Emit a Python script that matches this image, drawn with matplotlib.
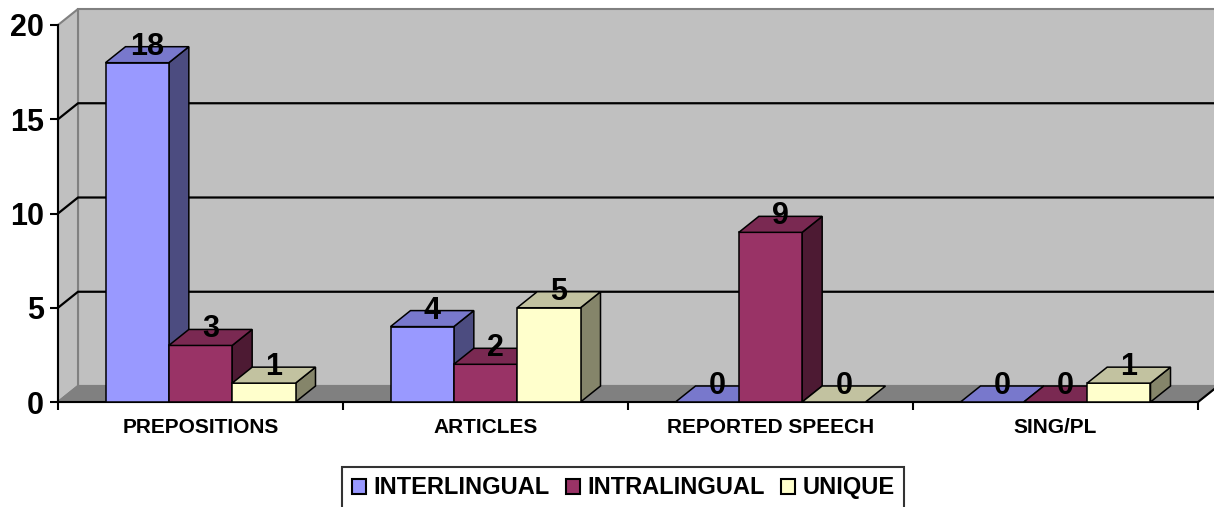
import matplotlib

matplotlib.use("Agg")
import matplotlib.pyplot as plt
from matplotlib.patches import Patch, Polygon, Rectangle

CATEGORIES = ["PREPOSITIONS", "ARTICLES", "REPORTED SPEECH", "SING/PL"]
SERIES = ["INTERLINGUAL", "INTRALINGUAL", "UNIQUE"]
INTERLINGUAL = [18, 4, 0, 0]
INTRALINGUAL = [3, 2, 9, 0]
UNIQUE = [1, 5, 0, 1]
Y_TICKS = [0, 5, 10, 15, 20]

# front / top / side shades, Excel 2003 style
SHADES = {
    "INTERLINGUAL": ("#9999FF", "#7878CC", "#4C4C80"),
    "INTRALINGUAL": ("#993366", "#7A2952", "#4D1A33"),
    "UNIQUE": ("#FFFFCC", "#C2C2A0", "#85856A"),
}
WALL = "#C0C0C0"
FLOOR = "#808080"
EDGE_GREY = "#808080"

plt.rcParams["font.family"] = ["Liberation Sans", "DejaVu Sans"]
plt.rcParams["font.weight"] = "bold"

W, H = 1214, 507
fig = plt.figure(figsize=(W / 100, H / 100), dpi=100)
ax = fig.add_axes([58 / W, 105 / H, 1140 / W, 377 / H])
ax.set_xlim(0, len(CATEGORIES))
ax.set_ylim(0, 20)

# depth of the 3-D box, converted from pixels into data units
dx = 20 / (1140 / len(CATEGORIES))
dy = 16 / (377 / 20)
ncat = len(CATEGORIES)
ymax = Y_TICKS[-1]


def poly(pts, fc, ec, lw, z):
    ax.add_patch(Polygon(pts, closed=True, facecolor=fc, edgecolor=ec, linewidth=lw,
                         zorder=z, clip_on=False, joinstyle="miter"))


# walls and floor
poly([(dx, dy), (ncat + dx, dy), (ncat + dx, ymax + dy), (dx, ymax + dy)], WALL, EDGE_GREY, 1.5, 0.5)
poly([(0, 0), (dx, dy), (dx, ymax + dy), (0, ymax)], WALL, EDGE_GREY, 1.5, 0.6)
poly([(0, 0), (ncat, 0), (ncat + dx, dy), (dx, dy)], FLOOR, EDGE_GREY, 1.5, 0.7)

for v in Y_TICKS[1:-1]:
    ax.plot([0, dx, ncat + dx], [v, v + dy, v + dy], color="black", lw=1.6, zorder=0.9, clip_on=False)

ax.plot([ncat, ncat + dx], [0, dy], color="black", lw=1.5, zorder=2, clip_on=False)

# bars
values = {"INTERLINGUAL": INTERLINGUAL, "INTRALINGUAL": INTRALINGUAL, "UNIQUE": UNIQUE}
nser = len(SERIES)
bw = 1 / (nser + 1.5)
gap = 0.75 * bw
for i, cat in enumerate(CATEGORIES):
    for j, name in enumerate(SERIES):
        v = values[name][i]
        front, top, side = SHADES[name]
        x0 = i + gap + j * bw
        x1 = x0 + bw
        z = 3 + i * 0.1 + j * 0.01
        if v > 0:
            poly([(x1, 0), (x1 + dx, dy), (x1 + dx, v + dy), (x1, v)], side, "black", 1.1, z)
            ax.add_patch(Rectangle((x0, 0), bw, v, facecolor=front, edgecolor="black",
                                   linewidth=1.1, zorder=z, clip_on=False))
        poly([(x0, v), (x1, v), (x1 + dx, v + dy), (x0 + dx, v + dy)], top, "black", 1.1, z)
        ax.text(x0 + bw / 2 + dx / 2, v + dy, str(v), ha="center", va="center",
                fontsize=22, fontweight="bold", zorder=10)

# axes
for s in ("top", "right"):
    ax.spines[s].set_visible(False)
for s in ("left", "bottom"):
    ax.spines[s].set_linewidth(1.5)
    ax.spines[s].set_zorder(2.5)
ax.set_yticks(Y_TICKS)
ax.set_yticklabels([str(t) for t in Y_TICKS], fontsize=22, fontweight="bold")
ax.set_xticks(range(ncat + 1))
ax.set_xticklabels([])
ax.set_xticks([i + 0.5 for i in range(ncat)], minor=True)
ax.set_xticklabels(CATEGORIES, minor=True, fontsize=15, fontweight="bold")
ax.tick_params(axis="y", length=6, width=1.5, pad=4)
ax.tick_params(axis="x", which="major", length=6, width=1.5)
ax.tick_params(axis="x", which="minor", length=0, pad=11.5)
ax.set_facecolor("none")

handles = [Patch(facecolor=SHADES[n][0], edgecolor="black", linewidth=1.5) for n in SERIES]
leg = fig.legend(handles, SERIES, loc="upper center", bbox_to_anchor=(623 / W, 1 - 467 / H),
                 ncol=3, fontsize=17, frameon=True, fancybox=False, borderpad=0.4,
                 handlelength=0.6, handleheight=0.6, handletextpad=0.3, columnspacing=0.7,
                 borderaxespad=0)
leg.get_frame().set_edgecolor("black")
leg.get_frame().set_linewidth(1.5)
for t in leg.get_texts():
    t.set_fontweight("bold")

fig.savefig("out.png", dpi=100)
